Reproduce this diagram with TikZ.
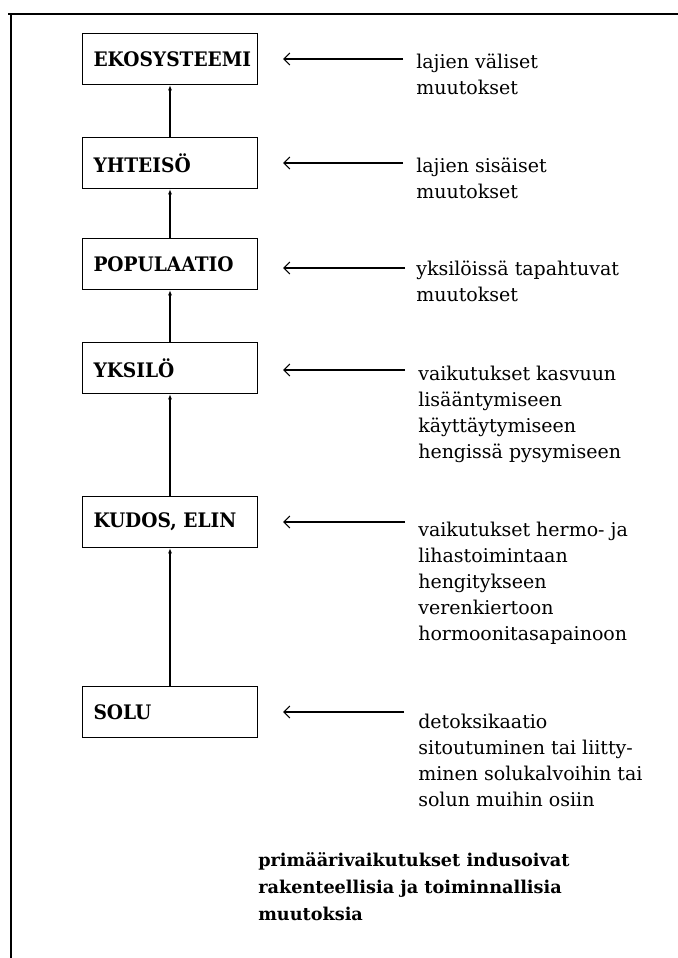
\documentclass[tikz,border=0pt]{standalone}
\usepackage{fontspec}
\setmainfont{DejaVu Serif}
\newfontfamily\tasofont[FakeStretch=0.93]{DejaVu Serif}
\usetikzlibrary{arrows.meta}
\tikzset{
	taso/.style={draw,line width=0.8pt,inner xsep=8.25pt,text width=114.75pt,align=left,minimum height=38.25pt,font=\tasofont\bfseries\fontsize{15}{17}\selectfont},
	selite/.style={anchor=base west,inner sep=0pt,font=\fontsize{14.25}{19.5}\selectfont},
	nuoli/.style={-{Straight Barb[length=4.5pt,width=9pt]},line width=0.8pt,shorten >=18.75pt},
	ylos/.style={-{Latex[length=4pt,width=3pt]},line width=0.8pt}
}
\newcommand{\rivit}[1]{\begin{tabular}[t]{@{}l@{}}#1\end{tabular}}
\begin{document}
\begin{tikzpicture}[x=0.75pt,y=-0.75pt]
		\useasboundingbox (0,0) rectangle (678,958);
		\draw[line width=0.9pt] (8,14) -- (678,14);
		\draw[line width=0.9pt] (11,14) -- (11,958);
		\node[taso] (eko) at (170,59) {EKOSYSTEEMI};
		\node[taso] (yht) at (170,163) {YHTEISÖ};
		\node[taso] (pop) at (170,264) {POPULAATIO};
		\node[taso] (yks) at (170,368) {YKSILÖ};
		\node[taso] (kud) at (170,522) {KUDOS, ELIN};
		\node[taso] (sol) at (170,712) {SOLU};
		\draw[ylos] (yht) -- (eko);
		\draw[ylos] (pop) -- (yht);
		\draw[ylos] (yks) -- (pop);
		\draw[ylos] (kud) -- (yks);
		\draw[ylos] (sol) -- (kud);
		\node[selite] (s-eko) at (416,68) {\rivit{lajien väliset\\muutokset}};
		\node[selite] (s-yht) at (416,172) {\rivit{lajien sisäiset\\muutokset}};
		\node[selite] (s-pop) at (416,275) {\rivit{yksilöissä tapahtuvat\\muutokset}};
		\node[selite] (s-yks) at (418,380) {\rivit{vaikutukset kasvuun\\lisääntymiseen\\käyttäytymiseen\\hengissä pysymiseen}};
		\node[selite] (s-kud) at (418,536) {\rivit{vaikutukset hermo- ja\\lihastoimintaan\\hengitykseen\\verenkiertoon\\hormoonitasapainoon}};
		\node[selite] (s-sol) at (418,728) {\rivit{detoksikaatio\\sitoutuminen tai liitty-\\minen solukalvoihin tai\\solun muihin osiin}};
		\node[selite,font=\bfseries\fontsize{13.25}{20.5}\selectfont] (perus) at (258,866) {\rivit{primäärivaikutukset indusoivat\\rakenteellisia ja toiminnallisia\\muutoksia}};
		\coordinate (p-eko) at (403,59);
		\coordinate (p-yht) at (403,163);
		\coordinate (p-pop) at (405,268);
		\coordinate (p-yks) at (405,370);
		\coordinate (p-kud) at (405,522);
		\coordinate (p-sol) at (404,712);
		\draw[nuoli] (p-eko) -- (p-eko -| eko.east);
		\draw[nuoli] (p-yht) -- (p-yht -| yht.east);
		\draw[nuoli] (p-pop) -- (p-pop -| pop.east);
		\draw[nuoli] (p-yks) -- (p-yks -| yks.east);
		\draw[nuoli] (p-kud) -- (p-kud -| kud.east);
		\draw[nuoli] (p-sol) -- (p-sol -| sol.east);
	\end{tikzpicture}
\end{document}
